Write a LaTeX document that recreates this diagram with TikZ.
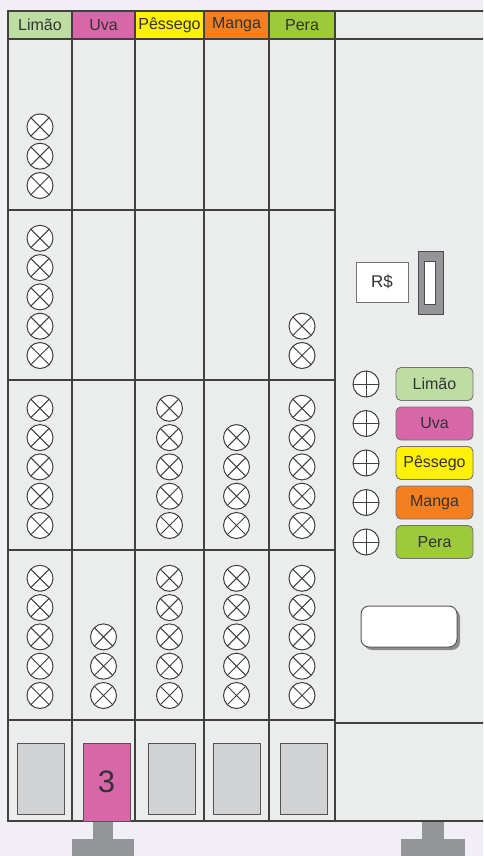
\documentclass[tikz,border=0pt]{standalone}
\usepackage{fontspec}
\setmainfont{Liberation Sans}
\definecolor{bgc}{HTML}{F1EFF5}
\definecolor{panel}{HTML}{EBEDEC}
\definecolor{linec}{HTML}{404040}
\definecolor{limao}{HTML}{BEDDA3}
\definecolor{uva}{HTML}{D767A9}
\definecolor{pessego}{HTML}{FFF200}
\definecolor{manga}{HTML}{F47F20}
\definecolor{pera}{HTML}{9CCA3B}
\definecolor{footc}{HTML}{939598}
\definecolor{slotc}{HTML}{D1D3D4}
\tikzset{
  grid/.style={draw=linec, line width=1.05pt},
  hcell/.style={draw=linec, line width=1.05pt, minimum height=28, inner sep=0, outer sep=0, font=\fontsize{16}{18}\selectfont, text=black!80},
  xcirc/.style={circle, draw=linec, fill=white, line width=1pt, minimum size=26, inner sep=0, outer sep=0},
  slot/.style={draw=linec!90, fill=slotc, line width=1pt, inner sep=0, outer sep=0, minimum width=47},
  btn/.style={draw=black!55, rounded corners=5, line width=0.9pt, minimum width=77, minimum height=33, inner sep=0, font=\fontsize{16}{18}\selectfont, text=black!80},
}
\newcommand{\xcmark}[3]{\node[xcirc] (#1) at (#2,#3) {}; \draw[linec, line width=1pt] (#1.45) -- (#1.225) (#1.135) -- (#1.315);}
\newcommand{\pcmark}[3]{\node[xcirc] (#1) at (#2,#3) {}; \draw[linec, line width=1pt] (#1.north) -- (#1.south) (#1.east) -- (#1.west);}
\begin{document}
\begin{tikzpicture}[x=1pt,y=-1pt]
\fill[bgc] (0,0) rectangle (483,856);
\useasboundingbox (0,0) rectangle (483,856);
% feet
\fill[footc] (93,819) rectangle (113,839);
\fill[footc] (72,839) rectangle (134,856);
\fill[footc] (422,819) rectangle (444,839);
\fill[footc] (401,839) rectangle (465,856);
% cabinet
\begin{scope}
\clip (0,0) rectangle (483,856);
\path[grid, fill=panel] (8,11) rectangle (495,821);
\draw[grid] (8,39) -- (495,39);
\draw[grid] (335,723) -- (495,723);
\end{scope}
% header
\node[hcell, fill=limao, minimum width=64] (hLimao) at (40,25) {Limão};
\node[hcell, fill=uva, minimum width=63] (hUva) at (103.5,25) {Uva};
\node[hcell, fill=pessego, minimum width=69] (hPessego) at (169.5,25) {Pêssego};
\node[hcell, fill=manga, minimum width=65] (hManga) at (236.5,25) {Manga};
\node[hcell, fill=pera, minimum width=66] (hPera) at (302,25) {Pera};
% columns
\foreach \x in {72,135,204,269,335} \draw[grid] (\x,39) -- (\x,821);
\foreach \y in {210,380,550,720} \draw[grid] (8,\y) -- (335,\y);
% items: row bottom, column center, count
\foreach \rb/\cx/\n/\id in {
  210/40/3/a1,
  380/40/5/b1, 380/302/2/b5,
  550/40/5/c1, 550/169.5/5/c3, 550/236.5/4/c4, 550/302/5/c5,
  720/40/5/d1, 720/103.5/3/d2, 720/169.5/5/d3, 720/236.5/5/d4, 720/302/5/d5}{
  \foreach \k in {1,...,\n}{
    \pgfmathsetmacro{\yy}{\rb-24.5-(\k-1)*29.3}
    \xcmark{x\id\k}{\cx}{\yy}
  }
}
% bottom slots
\node[slot, minimum height=71] (sLimao) at (40.5,778.5) {};
\node[slot, fill=uva, minimum height=78, font=\fontsize{31}{33}\selectfont, text=black!80] (sUva) at (106.5,782) {3};
\node[slot, minimum height=71] (sPessego) at (171.5,778.5) {};
\node[slot, minimum height=71] (sManga) at (236.5,778.5) {};
\node[slot, minimum height=71] (sPera) at (303.5,778.5) {};
% money
\node[draw=black!55, fill=white, line width=0.9pt, minimum width=52, minimum height=40, inner sep=0, font=\fontsize{17}{19}\selectfont, text=black!80] (money) at (382,282) {R\$};
\node[draw=black!70, fill=footc, line width=1pt, minimum width=25, minimum height=63, inner sep=0] (coin) at (430.5,282.5) {};
\node[draw=black!70, fill=white, line width=1pt, minimum width=11, minimum height=43, inner sep=0] (coinslot) at (429.5,282.5) {};
% selection buttons
\foreach \y/\c/\t/\id in {384/limao/Limão/Limao, 423.5/uva/Uva/Uva, 463/pessego/Pêssego/Pessego, 502.5/manga/Manga/Manga, 542/pera/Pera/Pera}{
  \pcmark{p\id}{366}{\y}
  \node[btn, fill=\c] (b\id) at (434.5,\y) {\t};
}
% confirm button
\node[fill=black!45, rounded corners=8, minimum width=96, minimum height=41, inner sep=0] (okshadow) at (412,629.5) {};
\node[draw=black!65, fill=white, rounded corners=8, line width=1pt, minimum width=96, minimum height=41, inner sep=0] (ok) at (409,626.5) {};
\end{tikzpicture}
\end{document}
